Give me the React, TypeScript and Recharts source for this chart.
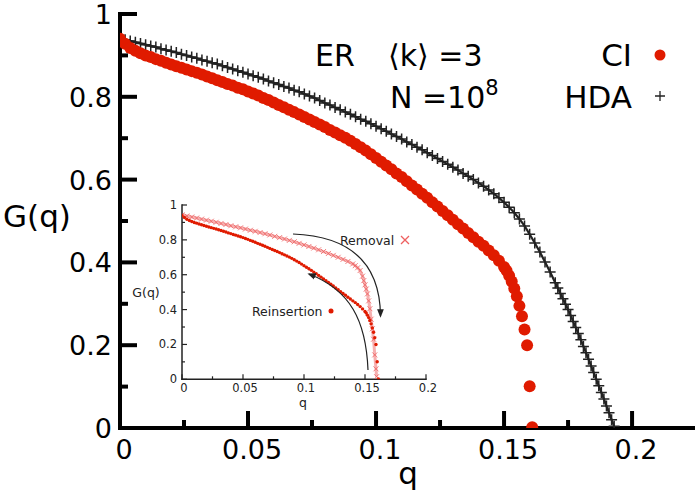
import { ScatterChart, Scatter, XAxis, YAxis } from "recharts";

const FONT = "DejaVu Sans, Verdana, sans-serif";
const RED = "#e01b00";
const PINK = "#ee6060";

// CI (reinsertion) curve, main panel + inset
const ciQ = [
  0, 0.002, 0.004, 0.006, 0.008, 0.01, 0.012, 0.014, 0.016, 0.018,
  0.02, 0.022, 0.024, 0.026, 0.028, 0.03, 0.032, 0.034, 0.036, 0.038,
  0.04, 0.042, 0.044, 0.046, 0.048, 0.05, 0.052, 0.054, 0.056, 0.058,
  0.06, 0.062, 0.064, 0.066, 0.068, 0.07, 0.072, 0.074, 0.076, 0.078,
  0.08, 0.082, 0.084, 0.086, 0.088, 0.09, 0.092, 0.094, 0.096, 0.098,
  0.1, 0.102, 0.104, 0.106, 0.108, 0.11, 0.112, 0.114, 0.116, 0.118,
  0.12, 0.122, 0.124, 0.126, 0.128, 0.13, 0.132, 0.134, 0.136, 0.138,
  0.14, 0.142, 0.144, 0.146, 0.148, 0.15,
  0.151, 0.152, 0.153, 0.154, 0.155, 0.156, 0.157, 0.158, 0.159, 0.16, 0.161,
];
const ciG = [
  0.94, 0.928, 0.918, 0.911, 0.905, 0.9, 0.896, 0.891, 0.887, 0.882,
  0.878, 0.874, 0.87, 0.866, 0.862, 0.858, 0.854, 0.849, 0.845, 0.84,
  0.836, 0.831, 0.827, 0.822, 0.818, 0.813, 0.808, 0.803, 0.797, 0.792,
  0.786, 0.78, 0.775, 0.769, 0.763, 0.757, 0.751, 0.745, 0.739, 0.733,
  0.727, 0.72, 0.714, 0.707, 0.701, 0.694, 0.686, 0.678, 0.67, 0.661,
  0.652, 0.643, 0.634, 0.625, 0.615, 0.606, 0.596, 0.586, 0.576, 0.566,
  0.556, 0.545, 0.535, 0.524, 0.514, 0.503, 0.492, 0.482, 0.471, 0.461,
  0.45, 0.44, 0.429, 0.417, 0.404, 0.389,
  0.38, 0.368, 0.354, 0.337, 0.318, 0.295, 0.27, 0.238, 0.2, 0.101, 0.002,
];

// HDA curve
const hdaQ = [
  0, 0.002, 0.004, 0.006, 0.008, 0.01, 0.012, 0.014, 0.016, 0.018,
  0.02, 0.022, 0.024, 0.026, 0.028, 0.03, 0.032, 0.034, 0.036, 0.038,
  0.04, 0.042, 0.044, 0.046, 0.048, 0.05, 0.052, 0.054, 0.056, 0.058,
  0.06, 0.062, 0.064, 0.066, 0.068, 0.07, 0.072, 0.074, 0.076, 0.078,
  0.08, 0.082, 0.084, 0.086, 0.088, 0.09, 0.092, 0.094, 0.096, 0.098,
  0.1, 0.102, 0.104, 0.106, 0.108, 0.11, 0.112, 0.114, 0.116, 0.118,
  0.12, 0.122, 0.124, 0.126, 0.128, 0.13, 0.132, 0.134, 0.136, 0.138,
  0.14, 0.142, 0.144, 0.146, 0.148, 0.15, 0.152, 0.154, 0.156, 0.158,
  0.16, 0.162, 0.164, 0.166, 0.168, 0.17,
  0.171, 0.172, 0.173, 0.174, 0.175, 0.176, 0.177, 0.178, 0.179, 0.18,
  0.181, 0.182, 0.183, 0.184, 0.185, 0.186, 0.187, 0.188, 0.189, 0.19,
  0.191, 0.192, 0.193,
];
const hdaG = [
  0.941, 0.938, 0.935, 0.932, 0.929, 0.926, 0.923, 0.92, 0.916, 0.913,
  0.91, 0.907, 0.903, 0.9, 0.896, 0.893, 0.889, 0.886, 0.882, 0.879,
  0.875, 0.871, 0.867, 0.863, 0.859, 0.855, 0.851, 0.847, 0.843, 0.838,
  0.834, 0.83, 0.825, 0.821, 0.816, 0.812, 0.807, 0.802, 0.797, 0.791,
  0.785, 0.78, 0.774, 0.769, 0.763, 0.758, 0.752, 0.746, 0.741, 0.735,
  0.729, 0.723, 0.717, 0.71, 0.704, 0.698, 0.691, 0.685, 0.678, 0.672,
  0.665, 0.658, 0.651, 0.644, 0.637, 0.63, 0.623, 0.615, 0.608, 0.6,
  0.592, 0.584, 0.575, 0.566, 0.556, 0.545, 0.533, 0.52, 0.505, 0.488,
  0.468, 0.447, 0.425, 0.401, 0.377, 0.351,
  0.338, 0.325, 0.312, 0.299, 0.286, 0.272, 0.257, 0.243, 0.228, 0.213,
  0.197, 0.182, 0.166, 0.15, 0.134, 0.118, 0.102, 0.086, 0.07, 0.053,
  0.037, 0.02, 0.004,
];

// inset: removal curve
const removalQ = [
  0, 0.004, 0.008, 0.012, 0.016, 0.02, 0.024, 0.028, 0.032, 0.036,
  0.04, 0.044, 0.048, 0.052, 0.056, 0.06, 0.064, 0.068, 0.072, 0.076,
  0.08, 0.084, 0.088, 0.092, 0.096, 0.1, 0.104, 0.108, 0.112, 0.116,
  0.12, 0.124, 0.128, 0.132, 0.136, 0.14, 0.142, 0.144, 0.146, 0.148,
  0.149, 0.15, 0.151, 0.152, 0.153, 0.154, 0.155, 0.156, 0.157, 0.158,
  0.159, 0.1595,
];
const removalG = [
  0.943, 0.937, 0.931, 0.925, 0.919, 0.913, 0.907, 0.901, 0.894, 0.888,
  0.881, 0.875, 0.869, 0.862, 0.855, 0.849, 0.842, 0.835, 0.828, 0.82,
  0.813, 0.805, 0.797, 0.789, 0.78, 0.771, 0.762, 0.753, 0.743, 0.733,
  0.722, 0.711, 0.7, 0.688, 0.676, 0.662, 0.652, 0.64, 0.624, 0.592,
  0.566, 0.542, 0.518, 0.49, 0.45, 0.405, 0.345, 0.29, 0.23, 0.14,
  0.06, 0.015,
];

// ticks
const xMajor = [0, 0.05, 0.1, 0.15, 0.2];
const xMinorMain = [0.025, 0.075, 0.125, 0.175];
const xMinorInset = [0.025, 0.075, 0.125, 0.175];
const yMajor = [0, 0.2, 0.4, 0.6, 0.8, 1];
const yMinor = [0.1, 0.3, 0.5, 0.7, 0.9];

const mainXTicks = [...xMajor, ...xMinorMain].sort((a, b) => a - b);
const insetXTicks = [...xMajor, ...xMinorInset].sort((a, b) => a - b);
const yTicks = [...yMajor, ...yMinor].sort((a, b) => a - b);

const ciData = ciQ.map((q, i) => ({ q, g: ciG[i] }));
const hdaData = hdaQ.map((q, i) => ({ q, g: hdaG[i] }));
const removalData = removalQ.map((q, i) => ({ q, g: removalG[i] }));

type Side = "bottom" | "top" | "left" | "right";
interface TickStyle {
  long: number;
  short: number;
  width: number;
  color: string;
  font?: number;
  gap?: number;
  shift?: number;
}

// ticks point into the plot, labels only on major ticks
function makeTick(side: Side, s: TickStyle, major: number[]) {
  return function Tick(props: any) {
    const { x, y, payload } = props;
    const v: number = payload.value;
    const isMajor = major.includes(v);
    const len = isMajor ? s.long : s.short;
    const dx = side === "left" ? len : side === "right" ? -len : 0;
    const dy = side === "bottom" ? -len : side === "top" ? len : 0;
    let label = null;
    if (isMajor && s.font) {
      if (side === "bottom")
        label = (
          <text x={x + (s.shift || 0)} y={y + (s.gap || 0)} textAnchor="middle"
            fontSize={s.font} fontFamily={FONT} fill={s.color}>{String(v)}</text>
        );
      if (side === "left")
        label = (
          <text x={x - (s.gap || 0)} y={y + (s.shift || 0)} textAnchor="end"
            fontSize={s.font} fontFamily={FONT} fill={s.color}>{String(v)}</text>
        );
    }
    return (
      <g>
        <line x1={x} y1={y} x2={x + dx} y2={y + dy} stroke={s.color} strokeWidth={s.width} />
        {label}
      </g>
    );
  };
}

const mainTick = { long: 17, short: 8, width: 4, color: "#000" };
const insetTick = { long: 5, short: 3, width: 1.2, color: "#222" };

const CiDot = (p: any) => <circle cx={p.cx} cy={p.cy} r={6} fill={RED} />;
const HdaPlus = (p: any) => (
  <path d={`M${p.cx - 5.5},${p.cy}H${p.cx + 5.5}M${p.cx},${p.cy - 5.5}V${p.cy + 5.5}`}
    stroke="#222" strokeWidth={1.5} fill="none" />
);
const SmallDot = (p: any) => <circle cx={p.cx} cy={p.cy} r={1.7} fill={RED} />;
const Cross = (p: any) => (
  <path d={`M${p.cx - 2.5},${p.cy - 2.5}L${p.cx + 2.5},${p.cy + 2.5}M${p.cx - 2.5},${p.cy + 2.5}L${p.cx + 2.5},${p.cy - 2.5}`}
    stroke={PINK} strokeWidth={1} strokeOpacity={0.8} fill="none" />
);

function MainChart() {
  const axisLine = { stroke: "#000", strokeWidth: 4, strokeLinecap: "square" as const };
  return (
    <ScatterChart width={700} height={499} margin={{ top: 14, right: 7, bottom: 0, left: 0 }}>
      <XAxis xAxisId="b" type="number" dataKey="q" domain={[0, 0.2238]} ticks={mainXTicks}
        interval={0} height={71} tickSize={0} tickMargin={0} tickLine={false} axisLine={axisLine}
        tick={makeTick("bottom", { ...mainTick, font: 27, gap: 31, shift: 4 }, xMajor)} allowDataOverflow />
      <XAxis xAxisId="t" orientation="top" type="number" dataKey="q" domain={[0, 0.2238]} ticks={mainXTicks}
        interval={0} height={0} tickSize={0} tickMargin={0} tickLine={false} axisLine={axisLine}
        tick={makeTick("top", mainTick, xMajor)} allowDataOverflow />
      <YAxis yAxisId="l" type="number" dataKey="g" domain={[0, 1]} ticks={yTicks}
        interval={0} width={120} tickSize={0} tickMargin={0} tickLine={false} axisLine={axisLine}
        tick={makeTick("left", { ...mainTick, font: 27, gap: 8, shift: 10 }, yMajor)} allowDataOverflow />
      <YAxis yAxisId="r" orientation="right" type="number" dataKey="g" domain={[0, 1]} ticks={yTicks}
        interval={0} width={0} tickSize={0} tickMargin={0} tickLine={false} axisLine={axisLine}
        tick={makeTick("right", mainTick, yMajor)} allowDataOverflow />
      <Scatter xAxisId="b" yAxisId="l" data={hdaData} shape={HdaPlus}
        line={{ stroke: "#222", strokeWidth: 2.2 }} isAnimationActive={false} />
      <Scatter xAxisId="b" yAxisId="l" data={ciData} shape={CiDot} isAnimationActive={false} />
    </ScatterChart>
  );
}

function InsetChart() {
  const axisLine = { stroke: "#222", strokeWidth: 1.5, strokeLinecap: "square" as const };
  return (
    <ScatterChart width={316} height={230} margin={{ top: 15, right: 22, bottom: 0, left: 0 }}>
      <XAxis xAxisId="b" type="number" dataKey="q" domain={[0, 0.2]} ticks={insetXTicks}
        interval={0} height={40.7} tickSize={0} tickMargin={0} tickLine={false} axisLine={axisLine}
        tick={makeTick("bottom", { ...insetTick, font: 11.5, gap: 12.5, shift: 2 }, xMajor)} allowDataOverflow />
      <XAxis xAxisId="t" orientation="top" type="number" dataKey="q" domain={[0, 0.2]} ticks={insetXTicks}
        interval={0} height={0} tickSize={0} tickMargin={0} tickLine={false} axisLine={axisLine}
        tick={makeTick("top", insetTick, xMajor)} allowDataOverflow />
      <YAxis yAxisId="l" type="number" dataKey="g" domain={[0, 1]} ticks={yTicks}
        interval={0} width={50} tickSize={0} tickMargin={0} tickLine={false} axisLine={axisLine}
        tick={makeTick("left", { ...insetTick, font: 11.5, gap: 5, shift: 4 }, yMajor)} allowDataOverflow />
      <YAxis yAxisId="r" orientation="right" type="number" dataKey="g" domain={[0, 1]} ticks={yTicks}
        interval={0} width={0} tickSize={0} tickMargin={0} tickLine={false} axisLine={axisLine}
        tick={makeTick("right", insetTick, yMajor)} allowDataOverflow />
      <Scatter xAxisId="b" yAxisId="l" data={removalData} shape={Cross}
        line={{ stroke: PINK, strokeWidth: 3, strokeOpacity: 0.5 }} isAnimationActive={false} />
      <Scatter xAxisId="b" yAxisId="l" data={ciData} shape={SmallDot} isAnimationActive={false} />
    </ScatterChart>
  );
}

function Labels() {
  const big = { fontFamily: FONT, fill: "#000" };
  const small = { fontFamily: FONT, fill: "#222", fontSize: 12.5 };
  return (
    <svg width={700} height={499} style={{ position: "absolute", left: 0, top: 0, pointerEvents: "none" }}>
      <defs>
        <marker id="ah" viewBox="0 0 10 10" refX="8" refY="5" markerWidth="7" markerHeight="7" orient="auto">
          <path d="M0,1 L10,5 L0,9 z" fill="#222" />
        </marker>
      </defs>
      {/* axis titles */}
      <text x={37} y={227} textAnchor="middle" fontSize={31} {...big}>G(q)</text>
      <text x={408} y={484} textAnchor="middle" fontSize={31} {...big}>q</text>
      {/* annotations */}
      <text x={315} y={66} fontSize={30} {...big}>ER</text>
      <text x={388} y={66} fontSize={30} {...big}>⟨k⟩ =3</text>
      <text x={390} y={108} fontSize={30} {...big}>
        N =10<tspan dy={-13} fontSize={21}>8</tspan>
      </text>
      {/* legend */}
      <text x={632} y={66} textAnchor="end" fontSize={31} {...big}>CI</text>
      <circle cx={660} cy={55} r={5.5} fill={RED} />
      <text x={632} y={108} textAnchor="end" fontSize={31} {...big}>HDA</text>
      <path d="M655,96H665M660,91V101" stroke="#222" strokeWidth={1.3} />
      {/* inset texts */}
      <text x={146} y={297} textAnchor="middle" {...small}>G(q)</text>
      <text x={303} y={407} textAnchor="middle" {...small}>q</text>
      <text x={340} y={244.5} {...small}>Removal</text>
      <path d="M401,236L409,244M401,244L409,236" stroke={PINK} strokeWidth={1.3} />
      <text x={252} y={315.5} {...small}>Reinsertion</text>
      <circle cx={331} cy={311} r={2.5} fill={RED} />
      {/* arrows */}
      <path d="M293,234 C345,236 380,258 380.5,316" fill="none" stroke="#222" strokeWidth={1.2} markerEnd="url(#ah)" />
      <path d="M368,370 C366,320 350,290 309,274" fill="none" stroke="#222" strokeWidth={1.2} markerEnd="url(#ah)" />
    </svg>
  );
}

export default function App() {
  return (
    <div style={{ position: "absolute", left: 0, top: 0, width: 700, height: 499, background: "#fff" }}>
      <MainChart />
      <div style={{ position: "absolute", left: 132, top: 190 }}>
        <InsetChart />
      </div>
      <Labels />
    </div>
  );
}
